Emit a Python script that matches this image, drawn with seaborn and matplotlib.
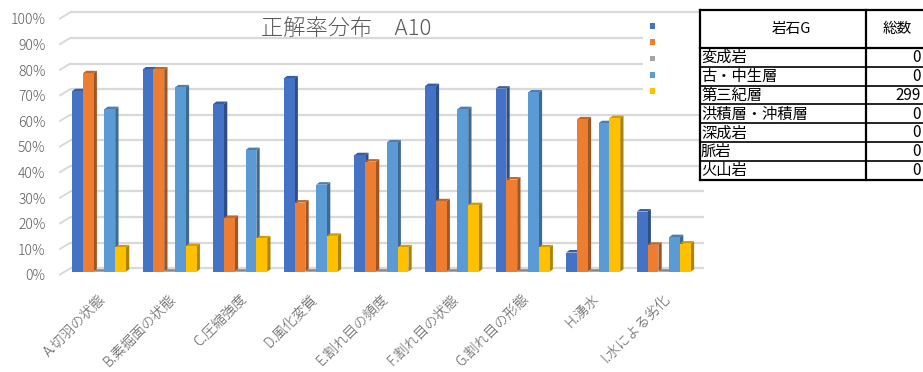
import matplotlib
matplotlib.use("Agg")
import matplotlib.pyplot as plt
import matplotlib.transforms as mtransforms
from matplotlib.patches import Polygon, Patch, Rectangle
from matplotlib.lines import Line2D
import numpy as np
import pandas as pd
import seaborn as sns

# ---- data -------------------------------------------------------------
categories = ["A.切羽の状態", "B.素掘面の状態", "C.圧縮強度", "D.風化変質",
              "E.割れ目の頻度", "F.割れ目の状態", "G.割れ目の形態", "H.湧水",
              "I.水による劣化"]
series_names = ["系列1", "系列2", "系列3", "系列4", "系列5"]
series1 = [70.5, 79.0, 65.5, 75.5, 45.5, 72.5, 71.5, 7.5, 23.5]
series2 = [77.5, 79.0, 21.0, 27.0, 43.0, 27.5, 36.0, 59.5, 10.5]
series3 = [0, 0, 0, 0, 0, 0, 0, 0, 0]
series4 = [63.5, 72.0, 47.5, 34.0, 50.5, 63.5, 70.0, 58.0, 13.5]
series5 = [9.5, 10.0, 13.0, 14.0, 9.5, 26.0, 9.5, 60.0, 11.0]
colors = ["#4472C4", "#ED7D31", "#A5A5A5", "#5B9BD5", "#FFC000"]

y_ticks = list(range(0, 101, 10))
y_tick_labels = [f"{t}%" for t in y_ticks]
title = "正解率分布　A10"

table_header = ["岩石G", "総数"]
rock_groups = ["変成岩", "古・中生層", "第三紀層", "洪積層・沖積層", "深成岩", "脈岩", "火山岩"]
rock_counts = [0, 0, 299, 0, 0, 0, 0]

df = pd.DataFrame({
    "項目": categories * 5,
    "系列": np.repeat(series_names, len(categories)),
    "正解率": series1 + series2 + series3 + series4 + series5,
})

# ---- figure -----------------------------------------------------------
sns.set_theme(style="white")
plt.rcParams["font.family"] = ["Noto Sans CJK JP", "DejaVu Sans"]

W, H, DPI = 923, 372, 100
TEXT = "#595959"
GRID = "#d9d9d9"
fig = plt.figure(figsize=(W / DPI, H / DPI), dpi=DPI)
fig.patch.set_facecolor("white")


def fx(px):
    return px / W


def fy(py):
    return 1 - py / H


# front plane of the bars
left_px, right_px = 59, 704
base_px, top_px = 271.7, 15.7
ax = fig.add_axes([fx(left_px), fy(base_px), (right_px - left_px) / W,
                   (base_px - top_px) / H])
ax.patch.set_visible(False)

sns.barplot(data=df, x="項目", y="正解率", hue="系列", order=categories,
            hue_order=series_names, palette=colors, saturation=1, width=0.765,
            linewidth=0, errorbar=None, legend=False, ax=ax)

group_px = 70.6
first_center_px = 99.0
ax.set_xlim((left_px - first_center_px) / group_px,
            (right_px - first_center_px) / group_px)
ax.set_ylim(0, 100)
sns.despine(ax=ax, left=True, bottom=True)
ax.grid(False)
ax.set_xlabel("")
ax.set_ylabel("")

ident = mtransforms.IdentityTransform()

# back wall gridlines with the short slanted floor edge on the left
wall_dx, wall_dy = 11.0, 3.4
front_dy = 3.3
for t in y_ticks:
    yd = ax.transData.transform((0, t))[1]
    x_left = ax.transData.transform((ax.get_xlim()[0], 0))[0] + 0.3
    x_wall = x_left + wall_dx
    x_right = ax.transData.transform((ax.get_xlim()[1], 0))[0]
    ax.add_line(Line2D([x_left, x_wall], [yd - front_dy, yd + wall_dy],
                       transform=ident, color=GRID, lw=1.4, clip_on=False,
                       zorder=0.5, solid_capstyle="butt"))
    ax.add_line(Line2D([x_wall, x_right], [yd + wall_dy, yd + wall_dy],
                       transform=ident, color=GRID, lw=1.6, clip_on=False,
                       zorder=0.5, solid_capstyle="butt"))

# extruded side and top faces of every column
bar_dx, bar_dy = 3.3, 2.5
bars = sorted([p for p in ax.patches if isinstance(p, Rectangle)],
              key=lambda r: r.get_x())
for rank, p in enumerate(bars):
    x0, w, h = p.get_x(), p.get_width(), p.get_height()
    X0, Y0 = ax.transData.transform((x0, 0))
    X1, Y1 = ax.transData.transform((x0 + w, h))
    base = np.array(p.get_facecolor()[:3])
    z = 2 + rank * 0.01
    side = Polygon([(X1, Y0), (X1 + bar_dx, Y0 + bar_dy),
                    (X1 + bar_dx, Y1 + bar_dy), (X1, Y1)], closed=True,
                   transform=ident, facecolor=base * 0.68, edgecolor="none",
                   clip_on=False, zorder=z)
    top = Polygon([(X0, Y1), (X0 + bar_dx, Y1 + bar_dy),
                   (X1 + bar_dx, Y1 + bar_dy), (X1, Y1)], closed=True,
                  transform=ident, facecolor=base * 0.82, edgecolor="none",
                  clip_on=False, zorder=z)
    ax.add_patch(side)
    ax.add_patch(top)
    p.set_zorder(z + 0.005)

# axis labels
ax.set_yticks(y_ticks)
ax.set_yticklabels(y_tick_labels, fontsize=10, color=TEXT, fontweight="light")
ax.tick_params(axis="y", length=0, pad=9.7)
for lab in ax.get_yticklabels():
    lab.set_transform(lab.get_transform() +
                      mtransforms.ScaledTranslation(0, -front_dy / DPI,
                                                    fig.dpi_scale_trans))

ax.set_xticks(range(len(categories)))
ax.set_xticklabels(categories, rotation=45, ha="right", va="center",
                   rotation_mode="anchor", fontsize=10, color=TEXT,
                   fontweight="light")
ax.tick_params(axis="x", length=0, pad=18)
for lab in ax.get_xticklabels():
    lab.set_transform(lab.get_transform() +
                      mtransforms.ScaledTranslation(4 / DPI, 0,
                                                    fig.dpi_scale_trans))

fig.text(fx(346), fy(29), title, ha="center", va="center", fontsize=16,
         color=TEXT, fontweight="light")

# legend: colour keys only
handles = [Patch(facecolor=c, edgecolor="none") for c in colors]
fig.legend(handles, [""] * len(handles), loc="upper left",
           bbox_to_anchor=(fx(643), fy(15), 57 / W, 0),
           bbox_transform=fig.transFigure, mode="expand", fontsize=8,
           frameon=True, fancybox=False, facecolor="white", edgecolor="none",
           framealpha=1, borderpad=0.65, borderaxespad=0, handlelength=0.45,
           handleheight=0.45, handletextpad=0, labelspacing=0.55)

# summary table
tx0, tx_mid, tx1 = 700, 866, 926
ty0, ty_head = 10, 48
row_h = 18.8
ty1 = ty_head + row_h * len(rock_groups)
fig.add_artist(Rectangle((fx(tx0), fy(ty1)), (tx1 - tx0) / W, (ty1 - ty0) / H,
                         transform=fig.transFigure, facecolor="white",
                         edgecolor="none", zorder=6))


def hline(y, x0, x1, lw):
    fig.add_artist(Line2D([fx(x0), fx(x1)], [fy(y), fy(y)],
                          transform=fig.transFigure, color="black", lw=lw,
                          zorder=7, solid_capstyle="projecting"))


def vline(x, y0, y1, lw):
    fig.add_artist(Line2D([fx(x), fx(x)], [fy(y0), fy(y1)],
                          transform=fig.transFigure, color="black", lw=lw,
                          zorder=7, solid_capstyle="projecting"))


hline(ty0, tx0, tx1, 1.6)
hline(ty_head, tx0, tx1, 1.6)
for i in range(1, len(rock_groups)):
    hline(ty_head + row_h * i, tx0, tx1, 1.2)
hline(ty1, tx0, tx1, 1.6)
vline(tx0, ty0, ty1, 1.6)
vline(tx_mid, ty0, ty1, 1.6)

fig.text(fx(791), fy((ty0 + ty_head) / 2), table_header[0], ha="center",
         va="center", fontsize=10.5, color="black", zorder=8)
fig.text(fx(897), fy((ty0 + ty_head) / 2), table_header[1], ha="center",
         va="center", fontsize=10.5, color="black", zorder=8)
for i, (name, cnt) in enumerate(zip(rock_groups, rock_counts)):
    yc = ty_head + row_h * (i + 0.5) + 0.3
    fig.text(fx(701), fy(yc), name, ha="left", va="center", fontsize=11,
             color="black", zorder=8)
    fig.text(fx(921), fy(yc), str(cnt), ha="right", va="center", fontsize=11,
             color="black", zorder=8)

fig.savefig("out.png", dpi=DPI, facecolor="white")
